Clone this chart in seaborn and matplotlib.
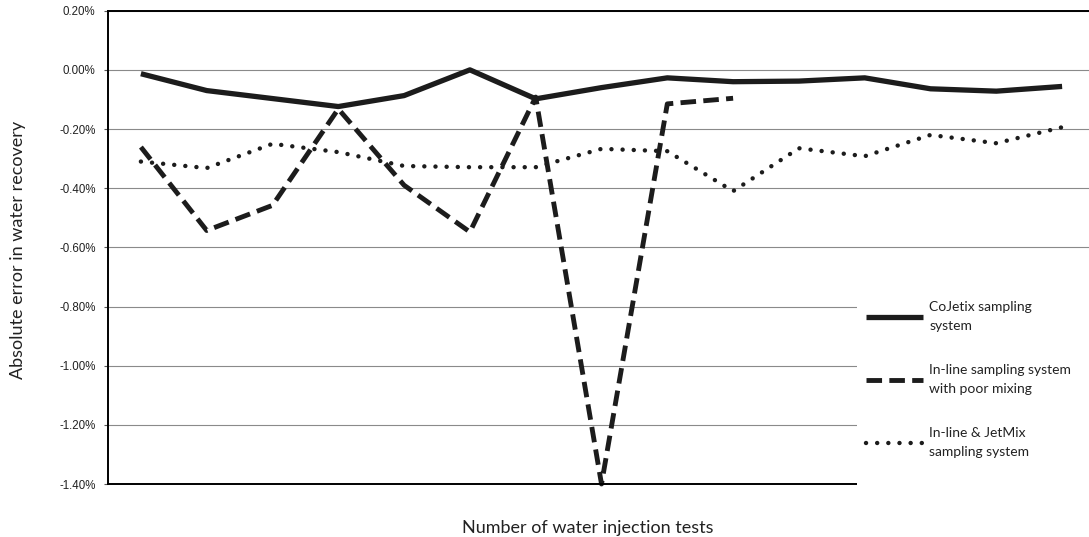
import numpy as np
import pandas as pd
import matplotlib
matplotlib.use("Agg")
import matplotlib.pyplot as plt
import seaborn as sns
from matplotlib.lines import Line2D
from matplotlib.patches import Rectangle
from matplotlib.ticker import FuncFormatter, MultipleLocator

# ---------------- data (absolute error, in %) ----------------
tests = list(range(1, 16))
cojetix = [-0.013, -0.070, -0.097, -0.124, -0.087, 0.000, -0.098, -0.060,
           -0.027, -0.040, -0.038, -0.027, -0.064, -0.072, -0.056]
inline_poor = [-0.261, -0.543, -0.458, -0.132, -0.390, -0.548, -0.092,
               -1.400, -0.115, -0.096]
inline_jetmix = [-0.310, -0.332, -0.250, -0.278, -0.325, -0.329, -0.329,
                 -0.267, -0.275, -0.410, -0.265, -0.292, -0.220, -0.248, -0.194]
labels = ["CoJetix sampling\nsystem",
          "In-line sampling system\nwith poor mixing",
          "In-line & JetMix\nsampling system"]
x_title = "Number of water injection tests"
y_title = "Absolute error in water recovery"

sns.set_style("white")
plt.rcParams["font.family"] = ["Liberation Sans", "DejaVu Sans"]

W, H = 1089, 537
fig = plt.figure(figsize=(W / 100, H / 100), dpi=100)
ax = fig.add_axes([108 / W, 53 / H, 987 / W, 473.3 / H])

ink = "#1c1c1c"
solid_kw = dict(color=ink, linewidth=3.8, solid_capstyle="butt")
dash_kw = dict(color=ink, linewidth=3.5, linestyle=(0, (3.2, 1.5)), dash_capstyle="butt")
dot_kw = dict(color=ink, linewidth=3.2, linestyle=(0, (0.01, 2.5)), dash_capstyle="round")

sns.lineplot(x=tests, y=cojetix, ax=ax, **solid_kw)
sns.lineplot(x=tests[:len(inline_poor)], y=inline_poor, ax=ax, **dash_kw)
sns.lineplot(x=tests, y=inline_jetmix, ax=ax, **dot_kw)
for ln in ax.lines:
    ln.set_clip_on(False)

ax.set_xlim(0.5, 15.5)
ax.set_ylim(-1.4, 0.2)
ax.yaxis.set_major_locator(MultipleLocator(0.2))
ax.yaxis.set_major_formatter(FuncFormatter(lambda v, p: f"{v:.2f}%"))
ax.set_xticks([])
ax.set_xlabel("")
ax.set_ylabel("")
ax.yaxis.grid(True, color="#8a8a8a", linewidth=0.8)
ax.xaxis.grid(False)
ax.set_axisbelow(True)
for s in ["left", "bottom", "top"]:
    ax.spines[s].set_visible(True)
    ax.spines[s].set_color("black")
    ax.spines[s].set_linewidth(1.4)
ax.spines["right"].set_visible(False)
ax.tick_params(axis="y", length=3, width=0.8, color="#555555", pad=6,
               labelsize=8.3, labelcolor="#222222", left=True)

# white area behind the legend (covers gridlines on the right)
rect = Rectangle((857 / W, 0), (W - 857) / W, 267 / H, transform=fig.transFigure,
                 facecolor="white", edgecolor="none", zorder=5)
fig.add_artist(rect)

handles = [Line2D([], [], **solid_kw), Line2D([], [], **dash_kw), Line2D([], [], **dot_kw)]
leg = fig.legend(handles=handles, labels=labels, loc="upper left",
                 bbox_to_anchor=(866 / W, 1 - 301 / H), frameon=False,
                 prop={"family": "Lato", "size": 10}, handlelength=4.1,
                 handletextpad=0.45, labelspacing=2.3, borderpad=0, borderaxespad=0)
leg.set_zorder(10)
for t in leg.get_texts():
    t.set_color("#222222")
    t.set_linespacing(1.7)

fig.text(588 / W, 1 - 528 / H, x_title, ha="center", va="center",
         fontsize=13, family="Lato", color="#222222")
fig.text(18 / W, 1 - 250 / H, y_title, ha="center", va="center", rotation=90,
         fontsize=13, family="Lato", color="#222222")

fig.savefig("out.png", dpi=100, facecolor="white")
